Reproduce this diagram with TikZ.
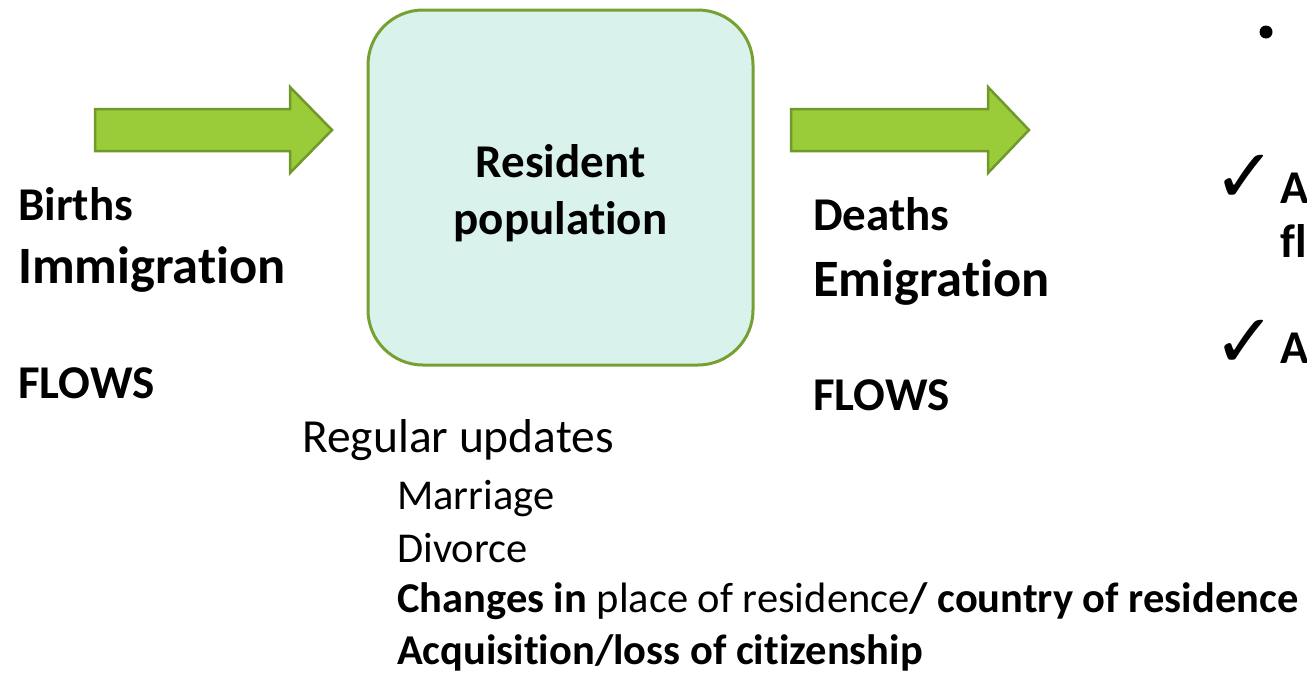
\documentclass[tikz,border=0pt]{standalone}
\usepackage{fontspec}
\setmainfont{Carlito}[Ligatures=CommonOff]
\newfontfamily\symfont{DejaVu Sans}
\definecolor{arrowgreen}{RGB}{154,204,58}
\definecolor{arrowline}{RGB}{113,152,43}
\definecolor{boxfill}{RGB}{218,242,236}
\definecolor{boxline}{RGB}{118,160,50}
\tikzset{
  flow/.style={fill=arrowgreen, draw=arrowline, line width=2.5pt, line join=miter},
  popbox/.style={draw=boxline, fill=boxfill, line width=3pt, rounded corners=55pt,
    minimum width=385pt, minimum height=355pt},
  lbl/.style={anchor=base west, inner sep=0pt, font=\fontsize{47}{56}\selectfont\bfseries},
  biglbl/.style={anchor=base west, inner sep=0pt, font=\fontsize{52.5}{63}\selectfont\bfseries},
  item/.style={anchor=base west, inner sep=0pt, font=\fontsize{42.5}{49}\selectfont},
  tick/.style={anchor=base west, inner sep=0pt, font=\fontsize{75}{75}\symfont},
}
\begin{document}
\begin{tikzpicture}[x=1pt, y=-1pt]
  \useasboundingbox (0,0) rectangle (1307,673);

  % arrows in and out
  \draw[flow] (95,109) -- (290,109) -- (290,87) -- (332,130) -- (290,173) -- (290,151) -- (95,151) -- cycle;
  \draw[flow] (791,109) -- (988,109) -- (988,87) -- (1029,130) -- (988,173) -- (988,151) -- (791,151) -- cycle;

  % stock
  \node[popbox] (pop) at (560.5,187.5) {};
  \node[anchor=base, inner sep=0pt, align=center, font=\fontsize{47}{57}\selectfont\bfseries]
    (poptext) at (560.5,234) {Resident\\population};

  % inflows
  \node[lbl] (births) at (18,220) {Births};
  \node[biglbl] (immig) at (18,283) {Immigration};
  \node[lbl] (flowsin) at (18,398) {FLOWS};

  % outflows
  \node[lbl] (deaths) at (813,230) {Deaths};
  \node[biglbl] (emig) at (813,296) {Emigration};
  \node[lbl] (flowsout) at (813,410) {FLOWS};

  % updates
  \node[anchor=base west, inner sep=0pt, font=\fontsize{47.5}{56}\selectfont] (upd) at (302,452) {Regular updates};
  \node[item] (marr) at (397,509) {Marriage};
  \node[item] (divo) at (397,562) {Divorce};
  \node[item] (chg) at (397,612) {\textbf{Changes in} place of residence\textbf{/ country of residence}};
  \node[item] (citz) at (397,664) {\textbf{Acquisition/loss of citizenship}};

  % right margin, cut off
  \fill (1266,32) circle (6.5);
  \node[tick] (tickA) at (1213,202) {✓};
  \node[lbl] (textA) at (1280,203) {A};
  \node[lbl] (textB) at (1280,257) {fl};
  \node[tick] (tickB) at (1213,367) {✓};
  \node[lbl] (textC) at (1280,363) {A};
\end{tikzpicture}
\end{document}
